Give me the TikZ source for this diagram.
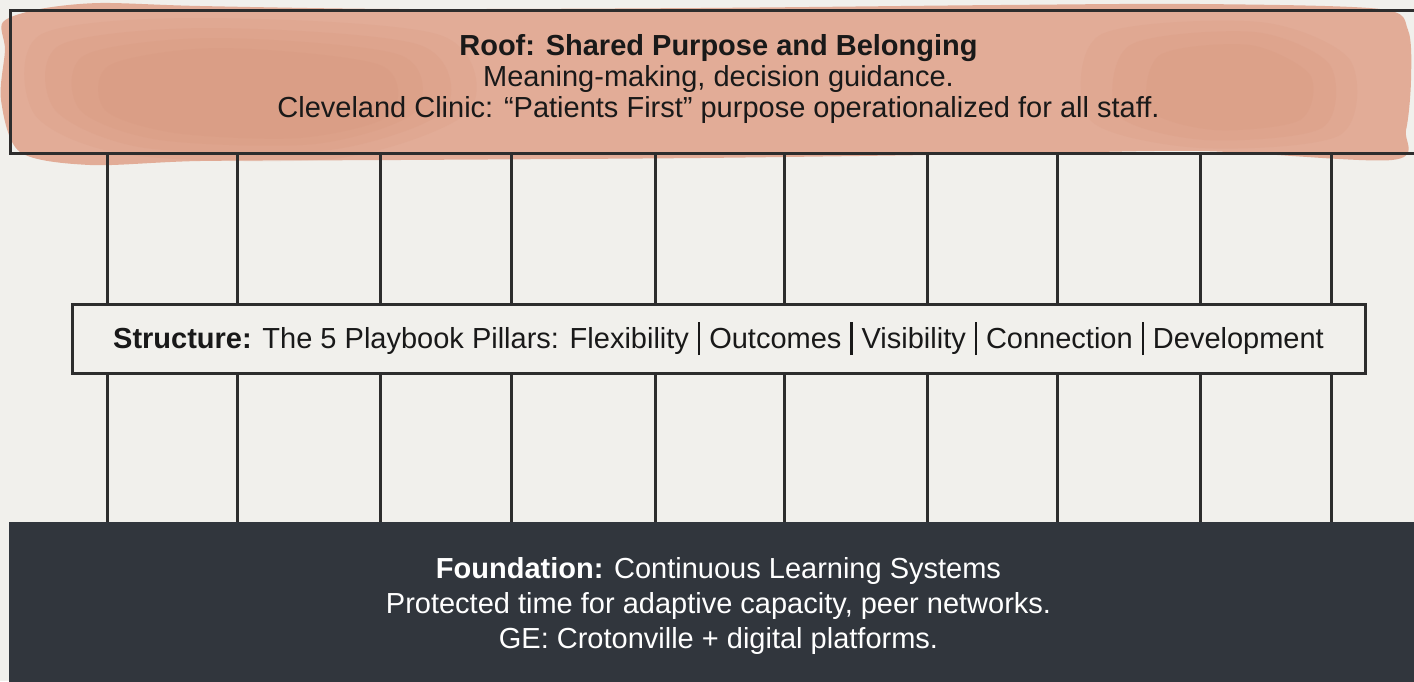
\documentclass[tikz,border=0pt]{standalone}
\usepackage{fontspec}
\setmainfont{Liberation Sans}
\definecolor{bg}{RGB}{241,240,236}
\definecolor{wash}{RGB}{226,172,151}
\definecolor{washdark}{RGB}{212,142,115}
\definecolor{ink}{RGB}{45,45,45}
\definecolor{found}{RGB}{49,54,61}
\definecolor{txtdark}{RGB}{25,25,25}
\newcommand{\sepbar}{\hspace{4.5pt}\rule[-3.5pt]{1.1pt}{16.5pt}\hspace{4.5pt}}
\begin{document}
\begin{tikzpicture}[x=0.5pt,y=-0.5pt,
  pillar/.style={draw=ink,line width=1.5pt},
  box/.style={draw=ink,line width=1.5pt,inner sep=0pt,outer sep=0pt,rectangle},
  txt/.style={font=\fontsize{14.5}{15.5}\selectfont,text=txtdark,align=center},
  blob/.style={fill=washdark,opacity=0.13}]
\fill[bg] (0,0) rectangle (1414,681);
\useasboundingbox (0,0) rectangle (1414,681);
% watercolour wash behind the roof
\fill[wash] plot[smooth cycle] coordinates {(3,22) (40,9) (100,3) (200,6) (400,9) (700,8) (1000,5) (1200,4) (1380,9) (1408,30) (1411,80) (1406,130) (1392,160) (1200,151) (1000,154) (700,158) (400,160) (200,161) (90,165) (20,152) (1,100) (5,50)};
\fill[blob] plot[smooth cycle] coordinates {(40,35) (200,18) (440,35) (470,110) (340,158) (130,155) (35,115)};
\fill[blob] plot[smooth cycle] coordinates {(60,45) (210,28) (420,45) (445,110) (330,150) (145,148) (55,110)};
\fill[blob] plot[smooth cycle] coordinates {(85,55) (215,38) (400,55) (415,112) (315,144) (160,140) (80,110)};
\fill[blob] plot[smooth cycle] coordinates {(110,65) (220,48) (380,65) (390,115) (300,138) (175,133) (105,110)};
\fill[blob] plot[smooth cycle] coordinates {(1100,35) (1260,22) (1350,60) (1340,135) (1200,148) (1090,120)};
\fill[blob] plot[smooth cycle] coordinates {(1130,45) (1255,32) (1330,65) (1322,128) (1205,140) (1118,115)};
\fill[blob] plot[smooth cycle] coordinates {(1160,55) (1250,45) (1310,75) (1300,120) (1215,130) (1150,110)};
% roof
\node[box,minimum width=708.5pt,minimum height=71.5pt] (roof) at (718.5,81.5) {};
\node[txt] (rooftext) at (718.5,78.5) {\textbf{Roof: Shared Purpose and Belonging}\\Meaning-making, decision guidance.\\Cleveland Clinic: “Patients First” purpose operationalized for all staff.};
% structure
\node[box,fill=bg,minimum width=646.5pt,minimum height=34.5pt,txt] (structure) at (718.5,338.5) {\textbf{Structure:} The 5 Playbook Pillars: Flexibility\sepbar Outcomes\sepbar Visibility\sepbar Connection\sepbar Development};
% foundation
\node[rectangle,fill=found,inner sep=0pt,outer sep=0pt,minimum width=709.5pt,minimum height=84pt,txt,text=white,font=\fontsize{14.5}{17.5}\selectfont] (found) at (718.5,606) {\textbf{Foundation:} Continuous Learning Systems\\Protected time for adaptive capacity, peer networks.\\GE: Crotonville + digital platforms.};
% pillars
\foreach \x [count=\i] in {107,237,380,511,655,784,927,1057,1200,1331} {
  \coordinate (p\i) at (\x,0);
  \draw[pillar] (roof.south -| p\i) -- (structure.north -| p\i);
  \draw[pillar] (structure.south -| p\i) -- (found.north -| p\i);
}
\end{tikzpicture}
\end{document}
